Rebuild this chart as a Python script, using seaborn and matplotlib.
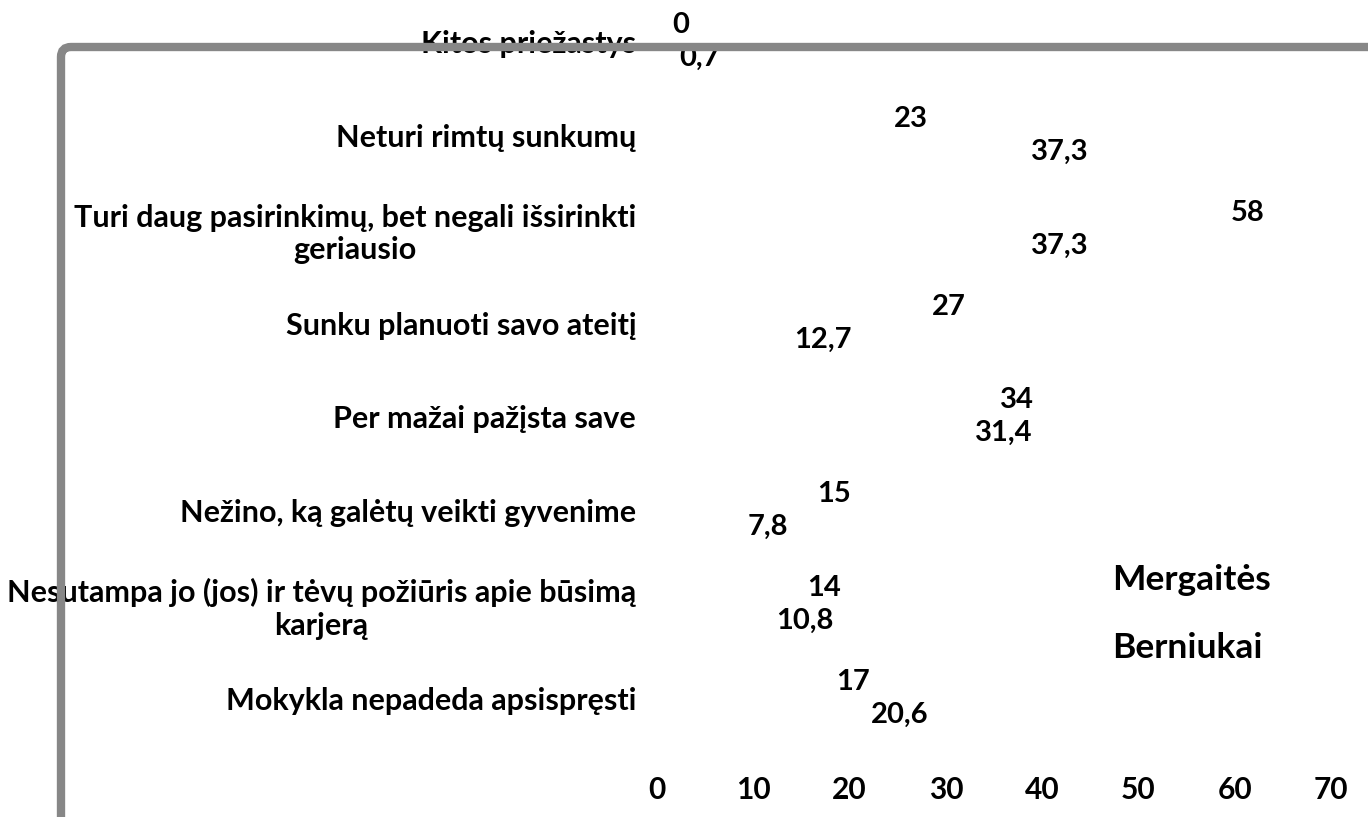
import numpy as np
import pandas as pd
import seaborn as sns
import matplotlib.pyplot as plt
from matplotlib.patches import FancyBboxPatch
from matplotlib.transforms import IdentityTransform

# categories, top to bottom
categories = [
    "Kitos priežastys",
    "Neturi rimtų sunkumų",
    "Turi daug pasirinkimų, bet negali išsirinkti\ngeriausio",
    "Sunku planuoti savo ateitį",
    "Per mažai pažįsta save",
    "Nežino, ką galėtų veikti gyvenime",
    "Nesutampa jo (jos) ir tėvų požiūris apie būsimą\nkarjerą",
    "Mokykla nepadeda apsispręsti",
]
mergaites = [0, 23, 58, 27, 34, 15, 14, 17]
berniukai = [0.7, 37.3, 37.3, 12.7, 31.4, 7.8, 10.8, 20.6]
groups = ["Mergaitės", "Berniukai"]
x_ticks = [0, 10, 20, 30, 40, 50, 60, 70]

df = pd.DataFrame({
    "kategorija": categories * 2,
    "reiksme": mergaites + berniukai,
    "grupe": [groups[0]] * len(categories) + [groups[1]] * len(categories),
})

sns.set_style("white")
plt.rcParams['font.family'] = ['Lato', 'DejaVu Sans']
plt.rcParams['font.weight'] = 'bold'
plt.rcParams['text.color'] = 'black'
plt.rcParams['xtick.color'] = 'black'
plt.rcParams['ytick.color'] = 'black'

fig = plt.figure(figsize=(13.68, 8.17), dpi=100)
W, H = 1368, 817
# axes: x 0..70 spans 657..1331 px, categories centred 42..698 px from top
ax = fig.add_axes([657 / W, 1 - 745 / H, (1331 - 657) / W, (745 + 5) / H])

sns.barplot(data=df, y="kategorija", x="reiksme", hue="grupe", order=categories,
            hue_order=groups, palette=["white", "white"], width=0.7,
            orient="h", ax=ax, legend=True)

for cont in ax.containers:
    vals = [b.get_width() for b in cont]
    labels = [f"{v:g}".replace(".", ",") for v in vals]
    ax.bar_label(cont, labels=labels, padding=11, fontsize=21, fontweight="bold",
                 color="black")

ax.set_xlim(0, 70)
ax.set_ylim(7.5, -0.5)
ax.set_xticks(x_ticks)
ax.set_xticklabels([str(t) for t in x_ticks], fontsize=21.5, fontweight="bold")
for lab in ax.get_yticklabels():
    lab.set_fontsize(22)
    lab.set_fontweight("bold")
    lab.set_multialignment("center")
    lab.set_linespacing(1.2)
ax.tick_params(axis="x", length=0, pad=22)
ax.tick_params(axis="y", length=0, pad=15)
ax.set_xlabel("")
ax.set_ylabel("")
sns.despine(ax=ax, left=True, bottom=True)

handles, labels = ax.get_legend_handles_labels()
ax.legend(handles, labels, loc="center left",
          bbox_to_anchor=(1080 / W, 1 - 614 / H), bbox_transform=fig.transFigure,
          frameon=False, handlelength=0, handletextpad=0, labelspacing=1.0,
          prop={"size": 25.5, "weight": "bold"})

# grey rounded chart-area border, cropped at right and bottom
frame = FancyBboxPatch((61, -60), 1400, H - 47 + 60,
                       boxstyle="round,pad=0,rounding_size=10",
                       transform=IdentityTransform(), fill=False,
                       edgecolor="#878787", linewidth=6, zorder=10)
fig.patches.append(frame)

fig.savefig("out.png", dpi=100)
